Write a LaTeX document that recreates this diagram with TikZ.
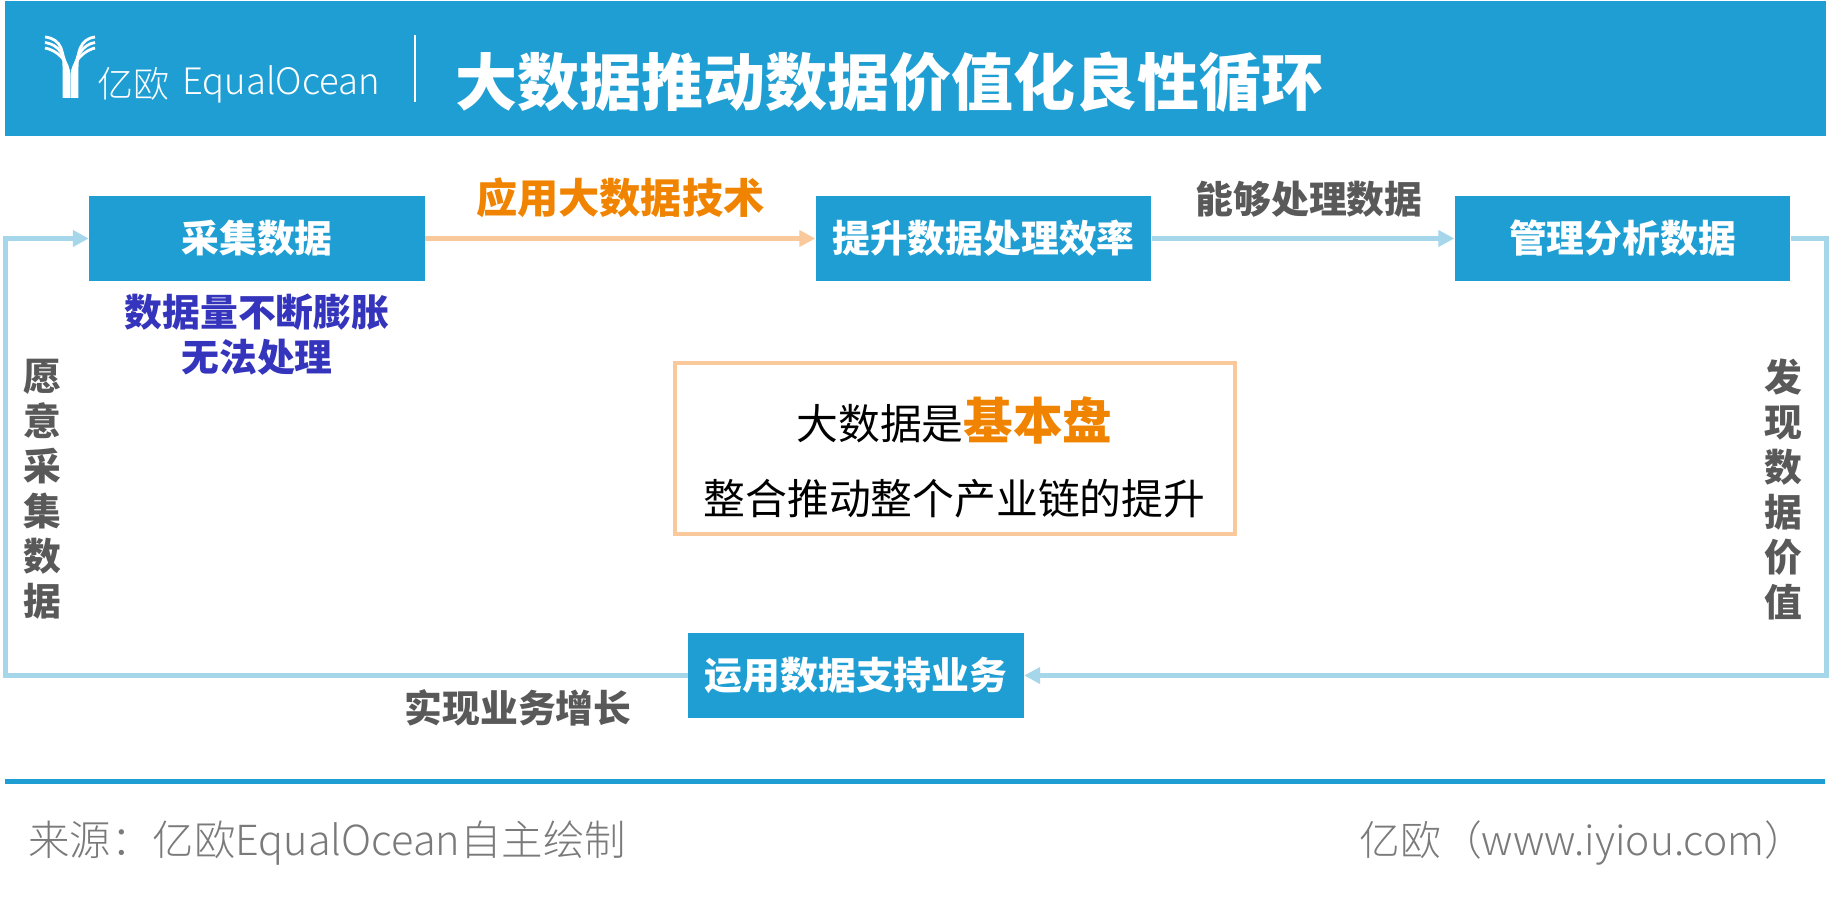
\documentclass[tikz,border=0pt]{standalone}
\usepackage{fontspec}
\setmainfont{Noto Sans CJK SC}
\newfontfamily\lightcjk{Noto Sans CJK SC Light}
\usetikzlibrary{positioning,arrows.meta}
\definecolor{eqblue}{HTML}{1E9ED3}
\definecolor{eqline}{HTML}{A5D6EA}
\definecolor{eqpeach}{HTML}{F9C89B}
\definecolor{eqorange}{HTML}{F08300}
\definecolor{eqgrey}{HTML}{595959}
\definecolor{eqpurple}{HTML}{3434BC}
\definecolor{eqfoot}{HTML}{7A7A7A}
\newcommand{\fs}[1]{\fontsize{#1}{#1}\selectfont}
\tikzset{
  bluebox/.style={fill=eqblue,text=white,font=\fs{18.9}\bfseries,minimum width=167.8pt,minimum height=42.5pt,inner sep=0pt},
  greylab/.style={text=eqgrey,font=\fs{18.9}\bfseries,inner sep=0pt},
  sidelab/.style={greylab,align=center,font=\fontsize{18.9}{22.5}\selectfont\bfseries},
  footlab/.style={text=eqfoot,font=\fs{20.7}\lightcjk,inner sep=0pt,anchor=west},
  looparrow/.style={eqline,line width=2.5pt,-{Triangle[length=8pt,width=8pt]}},
  logoline/.style={white,line width=1.4pt}
}
\begin{document}
\begin{tikzpicture}[x=0.5pt,y=-0.5pt,node distance=2cm,on grid]
    \useasboundingbox (0,0) rectangle (1831,897);
    % header
    \fill[eqblue] (5,1) rectangle (1826,136);
    \foreach \i in {0,1,2} {
      \draw[logoline] (45,{37+5.5*\i}) .. controls ({62-3*\i},{39+5.5*\i}) and ({64+2.5*\i},{52+4*\i}) .. ({64+2.5*\i},{72+2*\i}) -- ({64+2.5*\i},98);
      \draw[logoline] (95,{37+5.5*\i}) .. controls ({80+3*\i},{39+5.5*\i}) and ({77-2.5*\i},{52+4*\i}) .. ({77-2.5*\i},{72+2*\i}) -- ({77-2.5*\i},98);
    }
    \node[text=white,font=\fs{18}\lightcjk,inner sep=0pt,anchor=west] (brandcn) at (97,84) {亿欧};
    \node[text=white,font=\fs{18.2}\lightcjk,inner sep=0pt,anchor=west] (brand) at (182,84) {EqualOcean};
    \draw[white,line width=1pt] (415,35) -- (415,102);
    \node[text=white,font=\fs{31}\bfseries,inner sep=0pt,anchor=west] (title) at (455,82) {大数据推动数据价值化良性循环};
    % boxes
    \node[bluebox] (cj) at (257,238.5) {采集数据};
    \node[bluebox] (ts) [right=363.25pt of cj] {提升数据处理效率};
    \node[bluebox] (gl) [right=319.5pt of ts] {管理分析数据};
    \node[bluebox] (yy) at (856,675.5) {运用数据支持业务};
    \coordinate (rt) at (1826,238.5);
    \coordinate (rb) at (1826,675.5);
    \coordinate (lb) at (5,675.5);
    \coordinate (lt) at (5,238.5);
    \path[looparrow] (ts) edge node [above=9.5pt,greylab,xshift=3pt] (ln) {能够处理数据} (gl);
    \draw[looparrow] (gl) -- (rt) -- (rb) -- (yy);
    \draw[looparrow] (yy) -- (lb) -- (lt) -- (cj);
    \path[looparrow,eqpeach] (cj) edge node [above=9pt,text=eqorange,font=\fs{20.6}\bfseries,inner sep=0pt] (yyjs) {应用大数据技术} (ts);
    % labels
    \node[text=eqpurple,align=center,font=\fontsize{18.9}{22.5}\selectfont\bfseries,inner sep=0pt] (sl) at (257,335) {数据量不断膨胀\\无法处理};
    \node[sidelab] (yuan) at (42,489) {愿\\意\\采\\集\\数\\据};
    \node[sidelab] (fx) at (1783,489) {发\\现\\数\\据\\价\\值};
    \node[greylab] (zz) at (518,708) {实现业务增长};
    % centre box
    \node[draw=eqpeach,line width=2pt,minimum width=280pt,minimum height=85.5pt,inner sep=0pt,align=center,font=\fontsize{20.9}{37.5}\selectfont] (core) at (954.5,448.5)
      {\rule{0pt}{30pt}大数据是{\fs{24.8}\bfseries\textcolor{eqorange}{基本盘}}\\整合推动整个产业链的提升};
    % footer
    \fill[eqblue] (5,779) rectangle (1825,784);
    \node[footlab] (src) at (28,843) {来源：亿欧EqualOcean自主绘制};
    \node[footlab,font=\fs{20.4}\lightcjk] (site) at (1359,843) {亿欧（www.iyiou.com）};
\end{tikzpicture}
\end{document}
